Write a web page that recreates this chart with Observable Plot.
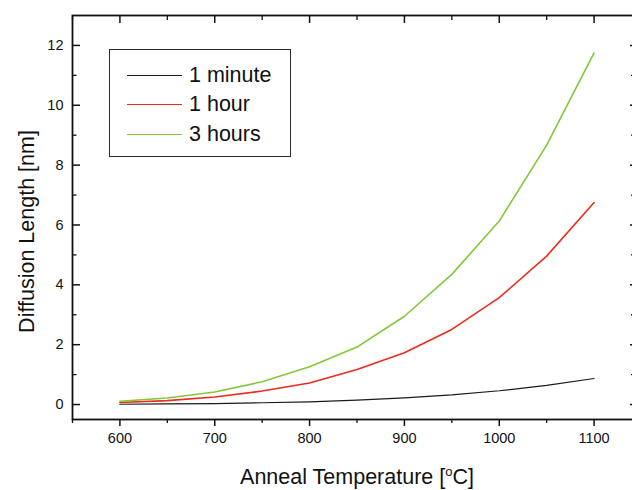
<!DOCTYPE html>
<html>
<head>
<meta charset="utf-8">
<script src="https://cdn.jsdelivr.net/npm/d3@7"></script>
<script src="https://cdn.jsdelivr.net/npm/@observablehq/plot@0.6"></script>
<style>
  html, body { margin: 0; padding: 0; background: #fff; overflow: hidden; }
  #wrap { position: relative; width: 632px; height: 490px; overflow: hidden; font-family: "Liberation Sans", Arial, sans-serif; }
  #wrap svg { max-width: none !important; width: 650px !important; height: 490px !important; display: block; }
  #wrap svg g[aria-label="x-axis tick label"], #wrap svg g[aria-label="y-axis tick label"] { font-size: 14.5px; fill: #111; }
  #legend { position: absolute; left: 109px; top: 49px; width: 180px; height: 106px; border: 1.6px solid #2a2a2a; background: #fff; box-sizing: content-box; }
  .row { position: absolute; left: 17px; display: flex; align-items: center; height: 28px; }
  .sw { width: 55px; height: 0; margin-right: 7px; }
  .lab { font-size: 21.5px; color: #111; line-height: 28px; }
</style>
</head>
<body>
<div id="wrap"></div>
<script>
// ---- data ----
const temperatures = [600, 650, 700, 750, 800, 850, 900, 950, 1000, 1050, 1100];
const oneMinute = [0.01, 0.02, 0.03, 0.06, 0.09, 0.15, 0.22, 0.32, 0.46, 0.64, 0.87];
const oneHour   = [0.07, 0.13, 0.25, 0.45, 0.72, 1.17, 1.73, 2.51, 3.57, 4.96, 6.75];
const threeHours= [0.11, 0.22, 0.42, 0.76, 1.26, 1.92, 2.95, 4.35, 6.13, 8.67, 11.75];
const seriesNames = ["1 minute", "1 hour", "3 hours"];
const seriesColors = ["#1a1a1a", "#ee2a1c", "#84c63a"];
const xMajorTicks = [600, 700, 800, 900, 1000, 1100];
const xMinorTicks = [550, 650, 750, 850, 950, 1050, 1150];
const yMajorTicks = [0, 2, 4, 6, 8, 10, 12];
const yMinorTicks = [1, 3, 5, 7, 9, 11];
const xDomain = [550, 1150];
const yDomain = [-0.5, 13];
const xTitle = "Anneal Temperature [°C]";
const yTitle = "Diffusion Length [nm]";

const seriesValues = [oneMinute, oneHour, threeHours];
const rows = [];
seriesNames.forEach((name, i) => {
  temperatures.forEach((t, j) => rows.push({series: name, T: t, L: seriesValues[i][j]}));
});

const W = 650, H = 490, mL = 72, mR = 9, mT = 15, mB = 71;
const fw = W - mL - mR, fh = H - mT - mB;

const chart = Plot.plot({
  width: W, height: H,
  marginLeft: mL, marginRight: mR, marginTop: mT, marginBottom: mB,
  style: {fontFamily: "Liberation Sans, Arial, sans-serif", fontSize: "14px", color: "#111", background: "#fff", maxWidth: "none"},
  x: {domain: xDomain, label: null},
  y: {domain: yDomain, label: null},
  color: {domain: seriesNames, range: seriesColors},
  marks: [
    // inward ticks: left & right
    Plot.tickY(yMajorTicks, {y: d => d, insetRight: fw - 8, stroke: "#111", strokeWidth: 1.5}),
    Plot.tickY(yMinorTicks, {y: d => d, insetRight: fw - 4.5, stroke: "#111", strokeWidth: 1.3}),
    Plot.tickY(yMajorTicks, {y: d => d, insetLeft: fw - 11, stroke: "#111", strokeWidth: 1.5}),
    Plot.tickY(yMinorTicks, {y: d => d, insetLeft: fw - 10, stroke: "#111", strokeWidth: 1.3}),
    // inward ticks: top
    Plot.tickX(xMajorTicks, {x: d => d, insetBottom: fh - 8, stroke: "#111", strokeWidth: 1.5}),
    Plot.tickX(xMinorTicks, {x: d => d, insetBottom: fh - 5, stroke: "#111", strokeWidth: 1.3}),
    // bottom outward ticks + labels
    Plot.axisX(xMajorTicks, {anchor: "bottom", tickSize: 7, tickPadding: 6, tickFormat: d => String(d), label: null, stroke: "#111", strokeWidth: 1.5}),
    Plot.axisX(xMinorTicks, {anchor: "bottom", tickSize: 4, tickFormat: () => "", label: null, strokeWidth: 1.3}),
    // left labels
    Plot.axisY(yMajorTicks, {anchor: "left", tickSize: 0, tickPadding: 9, tickFormat: d => String(d), label: null}),
    Plot.frame({stroke: "#111", strokeWidth: 1.8}),
    Plot.line(rows, {x: "T", y: "L", z: "series", stroke: "series", strokeWidth: d => d.series === "1 minute" ? 1.2 : 1.6, curve: "linear"}),
    Plot.text([xTitle], {frameAnchor: "bottom", lineAnchor: "middle", textAnchor: "middle", dy: 58, fontSize: 21.5, fill: "#111"}),
    Plot.text([yTitle], {frameAnchor: "left", lineAnchor: "middle", textAnchor: "middle", dx: -45, dy: 14, rotate: -90, fontSize: 21.5, fill: "#111"})
  ]
});

// superscript "o" for the degree in x title
chart.querySelectorAll("text").forEach(t => {
  if (t.textContent === xTitle) {
    const ns = "http://www.w3.org/2000/svg";
    t.textContent = "";
    const a = document.createElementNS(ns, "tspan"); a.textContent = "Anneal Temperature [";
    const b = document.createElementNS(ns, "tspan"); b.textContent = "o"; b.setAttribute("font-size", "13"); b.setAttribute("dy", "-8");
    const c = document.createElementNS(ns, "tspan"); c.textContent = "C]"; c.setAttribute("dy", "8");
    t.append(a, b, c);
  }
});

const wrap = document.getElementById("wrap");
wrap.appendChild(chart);

// legend
const legend = document.createElement("div");
legend.id = "legend";
const rowTops = [11, 40, 70];
seriesNames.forEach((name, i) => {
  const r = document.createElement("div");
  r.className = "row";
  r.style.top = rowTops[i] + "px";
  const sw = document.createElement("div");
  sw.className = "sw";
  sw.style.borderTop = (i === 0 ? 1.2 : 1.6) + "px solid " + seriesColors[i];
  const lab = document.createElement("span");
  lab.className = "lab";
  lab.textContent = name;
  r.append(sw, lab);
  legend.appendChild(r);
});
wrap.appendChild(legend);
</script>
</body>
</html>
